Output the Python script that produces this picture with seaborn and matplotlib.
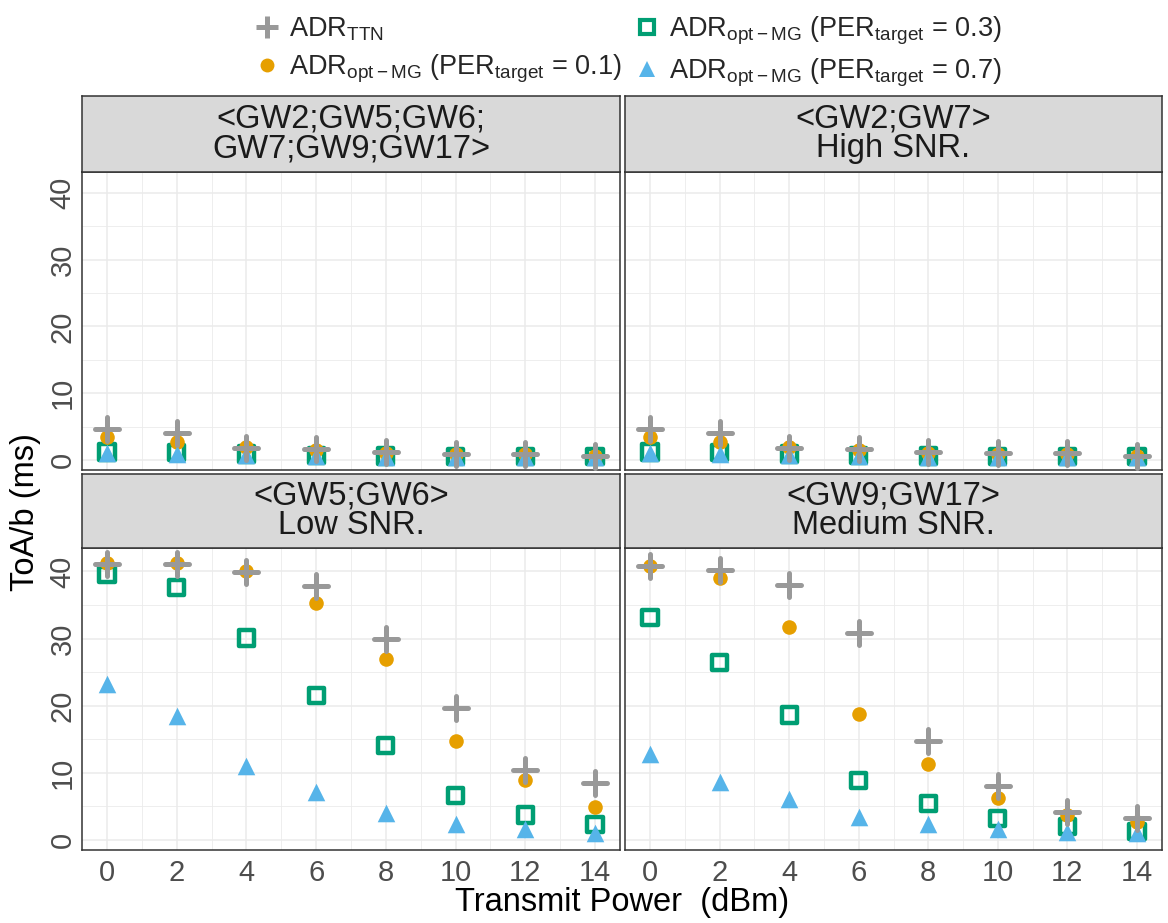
import numpy as np
import pandas as pd
import matplotlib
matplotlib.use("Agg")
import matplotlib.pyplot as plt
from matplotlib.lines import Line2D
from matplotlib.ticker import MultipleLocator
import seaborn as sns

# ---------------- data ----------------
power = [0, 2, 4, 6, 8, 10, 12, 14]
panel_titles = ["<GW2;GW5;GW6;\nGW7;GW9;GW17>", "<GW2;GW7>\nHigh SNR.",
                "<GW5;GW6>\nLow SNR.", "<GW9;GW17>\nMedium SNR."]

# panel: all gateways
ttn_all = [4.6, 4.1, 1.8, 1.6, 1.2, 0.9, 0.9, 0.6]
p01_all = [3.4, 2.7, 1.9, 1.5, 1.1, 0.9, 0.9, 0.6]
p03_all = [1.2, 1.1, 0.9, 0.7, 0.6, 0.5, 0.5, 0.5]
p07_all = [1.0, 0.9, 0.7, 0.6, 0.5, 0.4, 0.4, 0.4]
# panel: high SNR
ttn_high = [4.7, 4.0, 1.8, 1.6, 1.2, 1.0, 1.0, 0.6]
p01_high = [3.4, 2.7, 1.9, 1.5, 1.1, 0.9, 0.9, 0.6]
p03_high = [1.2, 1.1, 0.9, 0.7, 0.6, 0.5, 0.5, 0.5]
p07_high = [1.0, 0.9, 0.7, 0.6, 0.5, 0.4, 0.4, 0.4]
# panel: low SNR
ttn_low = [41.1, 41.1, 39.9, 37.8, 29.9, 19.7, 10.4, 8.5]
p01_low = [41.3, 41.3, 40.0, 35.3, 26.9, 14.8, 9.0, 4.9]
p03_low = [39.5, 37.6, 30.1, 21.5, 14.1, 6.6, 3.7, 2.3]
p07_low = [23.3, 18.4, 11.0, 7.1, 4.0, 2.4, 1.6, 1.1]
# panel: medium SNR
ttn_med = [40.8, 40.2, 38.0, 30.8, 14.7, 8.1, 4.1, 3.3]
p01_med = [40.8, 39.1, 31.7, 18.8, 11.3, 6.2, 3.7, 2.7]
p03_med = [33.1, 26.4, 18.6, 8.9, 5.4, 3.2, 2.0, 1.2]
p07_med = [12.8, 8.6, 6.1, 3.4, 2.3, 1.6, 1.2, 1.0]

panel_series = [
    (ttn_all, p01_all, p03_all, p07_all),
    (ttn_high, p01_high, p03_high, p07_high),
    (ttn_low, p01_low, p03_low, p07_low),
    (ttn_med, p01_med, p03_med, p07_med),
]

# ---------------- style ----------------
sns.set_theme(style="white")
plt.rcParams["font.family"] = ["Liberation Sans", "DejaVu Sans"]
plt.rcParams["mathtext.fontset"] = "custom"
plt.rcParams["mathtext.rm"] = "Liberation Sans"
plt.rcParams["mathtext.it"] = "Liberation Sans:italic"
plt.rcParams["mathtext.bf"] = "Liberation Sans:bold"

C_TTN = "#999999"
C_01 = "#E69F00"
C_03 = "#009E73"
C_07 = "#56B4E9"
GRID = "#EBEBEB"
BORDER = "#333333"
TICKC = "#4D4D4D"

W, H = 1168, 923
fig = plt.figure(figsize=(W / 100, H / 100), dpi=100)

def frac(x0, y0, x1, y1):
    return [x0 / W, 1 - y1 / H, (x1 - x0) / W, (y1 - y0) / H]

cols = [(82, 620), (625, 1162)]
rows = [((96, 172), (172, 470)), ((474, 548), (548, 850))]
ylims = [(-1.5, 43.1), (-1.5, 43.5)]

S_TTN, S_01, S_03, S_07 = 300, 110, 120, 160

for i in range(4):
    r, c = divmod(i, 2)
    (sy0, sy1), (py0, py1) = rows[r]
    x0, x1 = cols[c]
    ax = fig.add_axes(frac(x0, py0, x1, py1))
    sax = fig.add_axes(frac(x0, sy0, x1, sy1))
    ttn, p01, p03, p07 = panel_series[i]

    sns.scatterplot(x=power, y=p03, ax=ax, marker="s", s=S_03,
                    facecolors="none", edgecolors=C_03, linewidth=3.2, zorder=3)
    sns.scatterplot(x=power, y=p01, ax=ax, marker="o", s=S_01,
                    color=C_01, linewidth=0, zorder=4)
    sns.scatterplot(x=power, y=p07, ax=ax, marker="^", s=S_07,
                    color=C_07, linewidth=0, zorder=5)
    sns.scatterplot(x=power, y=ttn, ax=ax, marker="+", s=S_TTN,
                    color=C_TTN, linewidth=3.6, zorder=6)
    ax.collections[-1].set_capstyle("round")

    ax.set_xlim(-0.72, 14.72)
    ax.set_ylim(*ylims[r])
    ax.xaxis.set_major_locator(MultipleLocator(2))
    ax.xaxis.set_minor_locator(MultipleLocator(1))
    ax.yaxis.set_major_locator(MultipleLocator(10))
    ax.yaxis.set_minor_locator(MultipleLocator(5))
    ax.grid(True, which="major", color=GRID, linewidth=1.1, zorder=0)
    ax.grid(True, which="minor", color=GRID, linewidth=0.6, zorder=0)
    ax.set_axisbelow(True)
    for sp in ax.spines.values():
        sp.set_color(BORDER)
        sp.set_linewidth(1.1)
    ax.tick_params(axis="both", which="major", length=3.5, width=1.0,
                   color=BORDER, labelsize=21, labelcolor=TICKC, pad=3)
    ax.tick_params(axis="y", which="major", labelrotation=90, pad=0.5)
    for lab in ax.get_yticklabels():
        lab.set_va("center")
    ax.tick_params(axis="both", which="minor", length=0)
    if c == 1:
        ax.tick_params(axis="y", which="major", length=0, labelleft=False)
    if r == 0:
        ax.tick_params(axis="x", which="major", length=0, labelbottom=False)
    ax.set_xlabel("")
    ax.set_ylabel("")

    sax.set_xlim(0, 1)
    sax.set_ylim(0, 1)
    sax.set_xticks([])
    sax.set_yticks([])
    sax.set_facecolor("#D9D9D9")
    for sp in sax.spines.values():
        sp.set_color(BORDER)
        sp.set_linewidth(1.1)
    sax.text(0.5, 0.5, panel_titles[i], ha="center", va="center",
             fontsize=23.5, color="#1A1A1A", linespacing=0.95)

fig.text(26 / W, 1 - 512 / H, "ToA/b (ms)", rotation=90, ha="center",
         va="center", fontsize=23.5, color="black")
fig.text(622 / W, 1 - 911 / H, "Transmit Power  (dBm)", ha="center",
         va="baseline", fontsize=23.5, color="black")

handles = [
    Line2D([], [], linestyle="none", marker="+", markersize=16,
           markeredgewidth=3.6, color=C_TTN),
    Line2D([], [], linestyle="none", marker="o", markersize=10,
           markeredgewidth=0, color=C_01),
    Line2D([], [], linestyle="none", marker="s", markersize=10,
           markerfacecolor="none", markeredgecolor=C_03, markeredgewidth=3.0),
    Line2D([], [], linestyle="none", marker="^", markersize=12,
           markeredgewidth=0, color=C_07),
]
labels = [
    r"ADR$_{\mathrm{TTN}}$",
    r"ADR$_{\mathrm{opt-MG}}$ (PER$_{\mathrm{target}}$ = 0.1)",
    r"ADR$_{\mathrm{opt-MG}}$ (PER$_{\mathrm{target}}$ = 0.3)",
    r"ADR$_{\mathrm{opt-MG}}$ (PER$_{\mathrm{target}}$ = 0.7)",
]
fig.legend(handles, labels, loc="upper center", bbox_to_anchor=(0.538, 1.002),
           ncol=2, frameon=False, fontsize=19.5, handlelength=0.9,
           handletextpad=0.35, columnspacing=0.5, labelspacing=0.36,
           borderaxespad=0.2)

fig.savefig("out.png", dpi=100)
